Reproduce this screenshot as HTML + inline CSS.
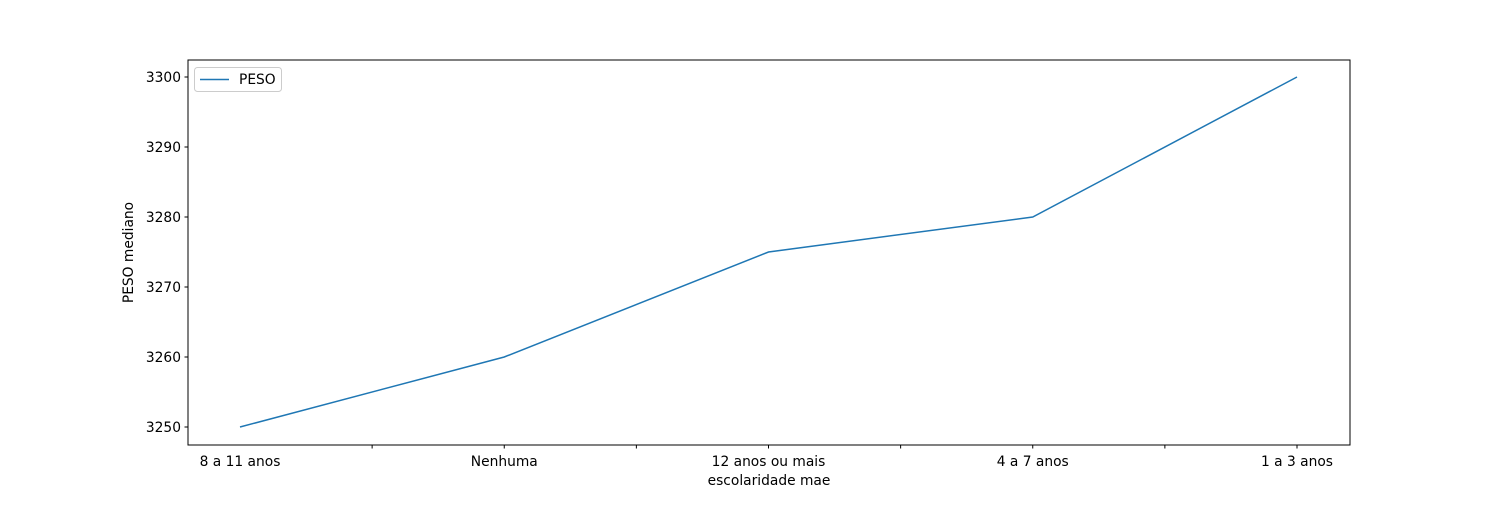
<!DOCTYPE html>
<html><head><meta charset="utf-8"><style>
body{margin:0;background:#fff;}
svg text{font-family:"DejaVu Sans","Liberation Sans",sans-serif;font-size:13.8px;fill:#000;}
</style></head><body>
<svg width="1500" height="500" xmlns="http://www.w3.org/2000/svg">
<g id="plot"></g>
</svg>
<script>
const categories=["8 a 11 anos","Nenhuma","12 anos ou mais","4 a 7 anos","1 a 3 anos"];
const values=[3250,3260,3275,3280,3300];
const yTicks=[3250,3260,3270,3280,3290,3300];
const L=188,R=1350,T=60,B=445;
const x0=240,dx=(1297-240)/4;
function xs(i){return x0+i*dx;}
function ys(v){return 427-(v-3250)*7;}
const g=document.getElementById('plot');
const NS='http://www.w3.org/2000/svg';
function mk(t,a,p){const e=document.createElementNS(NS,t);for(const k in a)e.setAttribute(k,a[k]);(p||g).appendChild(e);return e;}
yTicks.forEach(v=>{
 const y=ys(v);
 const t=mk('line',{x1:L-3.5,x2:L,y1:y,y2:y,stroke:'#000','stroke-width':1});
 
 
 const tx=mk('text',{x:L-7,y:y+5,'text-anchor':'end'});tx.textContent=v;
 
 
});
for(let k=1;k<=8;k++){
 const x=x0+k*dx/2;
 const t=mk('line',{x1:x,x2:x,y1:B,y2:B+3.5,stroke:'#000','stroke-width':1});
 
 
}
categories.forEach((c,i)=>{
 const tx=mk('text',{x:xs(i),y:B+21,'text-anchor':'middle'});tx.textContent=c;
 
 
});
const pl=mk('polyline',{points:values.map((v,i)=>xs(i)+','+ys(v)).join(' '),fill:'none',stroke:'#1f77b4','stroke-width':1.5});


const fr=mk('rect',{x:L,y:T,width:R-L,height:B-T,fill:'none',stroke:'#000','stroke-width':1});


const xt=mk('text',{x:(L+R)/2,y:485,'text-anchor':'middle'});xt.textContent='escolaridade mae';


const yt=mk('text',{x:133,y:(T+B)/2,'text-anchor':'middle',transform:'rotate(-90 133 '+((T+B)/2)+')'});yt.textContent='PESO mediano';


const lg=mk('g',{});


mk('rect',{x:194.5,y:67.5,width:87,height:24,rx:3,fill:'#fff',stroke:'#ccc','stroke-width':1},lg);
mk('line',{x1:200,x2:229,y1:79.5,y2:79.5,stroke:'#1f77b4','stroke-width':1.5},lg);
const lt=mk('text',{x:239,y:84},lg);lt.textContent='PESO';


</script>
</body></html>
